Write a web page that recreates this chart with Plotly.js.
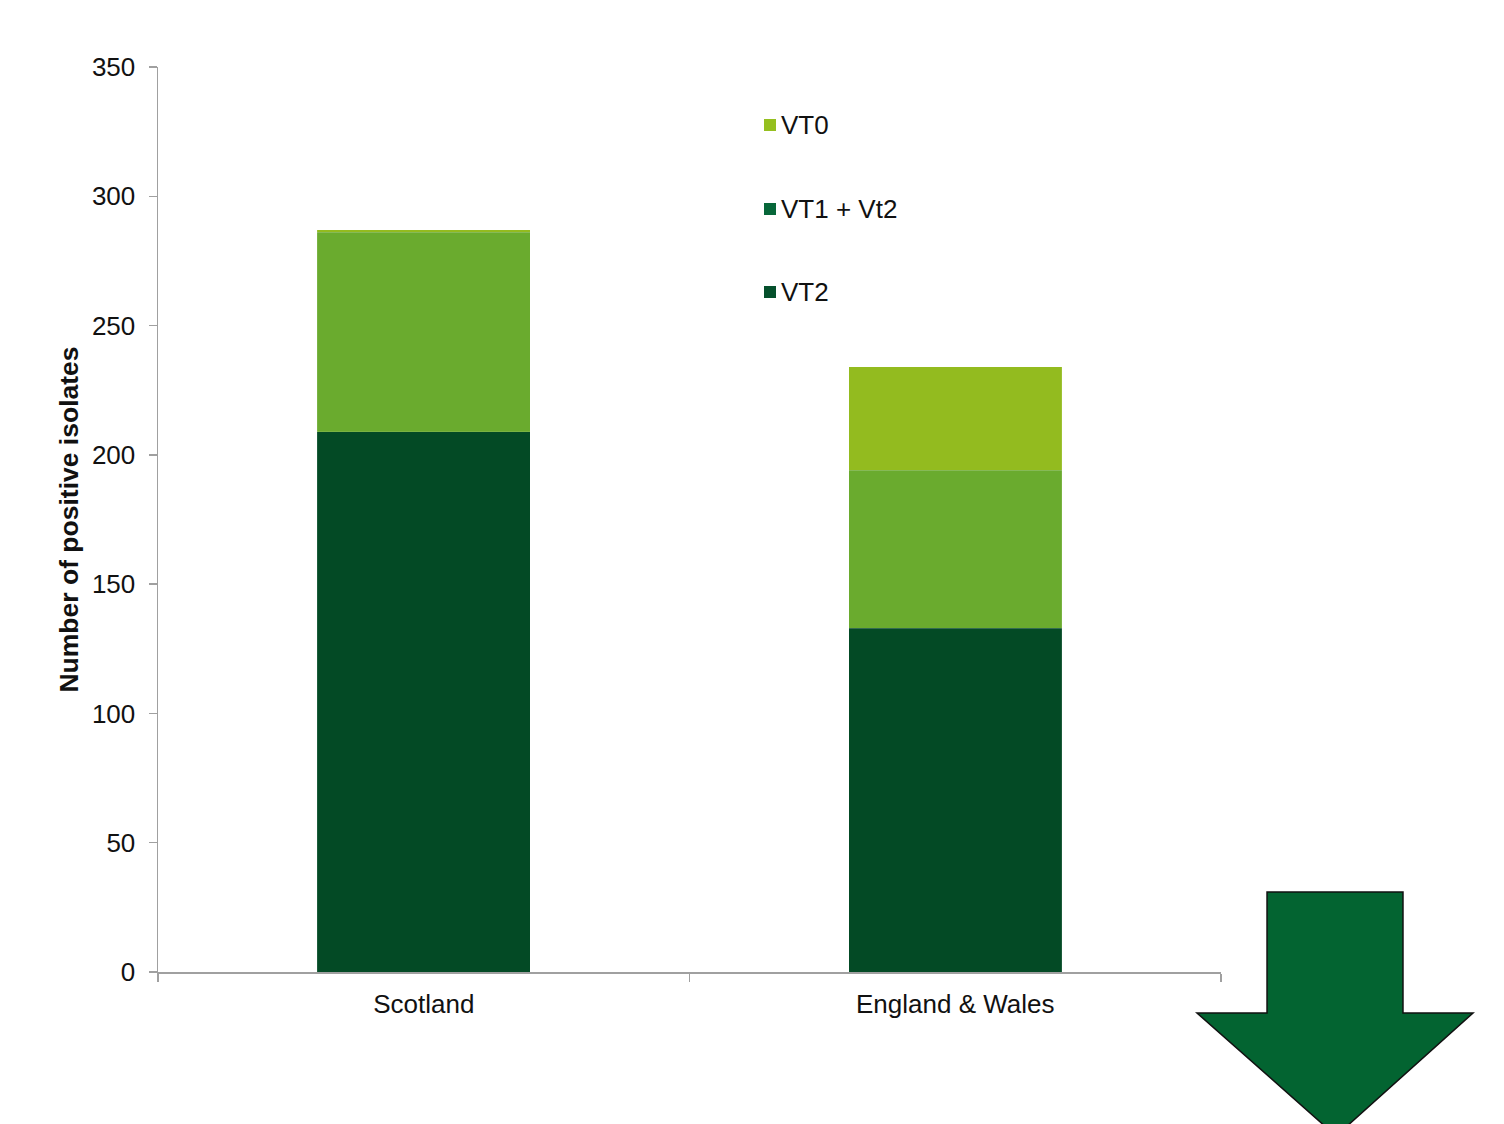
<!DOCTYPE html>
<html>
<head>
<meta charset="utf-8">
<script src="https://cdn.plot.ly/plotly-3.0.1.min.js"></script>
<style>
html,body{margin:0;padding:0;background:#fff;}
#chart{width:1504px;height:1124px;}
</style>
</head>
<body>
<div id="chart"></div>
<script>
const categories = ["Scotland", "England & Wales"];
const vt2 = [209, 133];
const vt1vt2 = [77, 61];
const vt0 = [1, 40];
const legendLabels = ["VT0", "VT1 + Vt2", "VT2"];
const yTicks = [0, 50, 100, 150, 200, 250, 300, 350];

const barColors = {vt2: "#034a25", vt1vt2: "#6aab2e", vt0: "#93bb1f"};
const legendColors = ["#95bf1f", "#07673a", "#05502c"];
const font = "Liberation Sans, Arial, sans-serif";

const edge = {color: "rgba(255,255,255,0.2)", width: 0.5};
const traces = [
  {type: "bar", name: "VT2", x: categories, y: vt2, marker: {color: barColors.vt2, line: edge}, width: 0.4, showlegend: false, hoverinfo: "x+y+name"},
  {type: "bar", name: "VT1 + Vt2", x: categories, y: vt1vt2, marker: {color: barColors.vt1vt2, line: edge}, width: 0.4, showlegend: false, hoverinfo: "x+y+name"},
  {type: "bar", name: "VT0", x: categories, y: vt0, marker: {color: barColors.vt0, line: edge}, width: 0.4, showlegend: false, hoverinfo: "x+y+name"}
];

// Plot area in pixels: x 158..1221, y 67..972
const L = 158, R = 1504 - 1221, T = 67, B = 1124 - 972;
const pw = 1221 - 158, ph = 972 - 67;
const px = v => (v - L) / pw;
const py = v => (972 - v) / ph;

const legendY = [125, 209, 292];
const shapes = [];
const annotations = [];
legendLabels.forEach((lab, i) => {
  const cy = legendY[i];
  shapes.push({type: "rect", xref: "paper", yref: "paper",
    x0: px(764), x1: px(776), y0: py(cy + 6), y1: py(cy - 6),
    fillcolor: legendColors[i], line: {width: 0}});
  annotations.push({xref: "paper", yref: "paper", x: px(779), y: py(cy),
    xanchor: "left", yanchor: "middle", showarrow: false, text: lab,
    font: {family: font, size: 26, color: "#111"}});
});

// Decorative down arrow
const arrowPts = [[1267,892],[1403,892],[1403,1013],[1473,1013],[1336,1136],[1197,1013],[1267,1013]];
let path = arrowPts.map((p, i) => (i ? "L" : "M") + px(p[0]).toFixed(4) + "," + py(p[1]).toFixed(4)).join(" ") + " Z";
shapes.push({type: "path", xref: "paper", yref: "paper", path: path,
  fillcolor: "#036431", line: {color: "#111", width: 1.5}, layer: "above"});

const layout = {
  width: 1504, height: 1124,
  margin: {l: L, r: R, t: T, b: B, pad: 0},
  paper_bgcolor: "#fff", plot_bgcolor: "#fff",
  barmode: "stack",
  bargap: 0.6,
  showlegend: false,
  font: {family: font, size: 26, color: "#111"},
  xaxis: {
    type: "category",
    showline: true, linecolor: "#a0a0a0", linewidth: 1.5,
    ticks: "outside", tickson: "boundaries", ticklen: 8, tickcolor: "#a0a0a0", tickwidth: 1.5,
    showgrid: false, zeroline: false,
    tickfont: {family: font, size: 26, color: "#111"},
    ticklabelstandoff: 8,
    range: [-0.5, 1.5], fixedrange: true
  },
  yaxis: {
    range: [0, 350], tickvals: yTicks, ticktext: yTicks.map(String),
    showline: true, linecolor: "#a0a0a0", linewidth: 1.5,
    ticks: "outside", ticklen: 8, tickcolor: "#a0a0a0", tickwidth: 1.5,
    showgrid: false, zeroline: false,
    tickfont: {family: font, size: 26, color: "#111"},
    ticklabelstandoff: 8,
    title: {text: "<b>Number of positive isolates</b>", font: {family: font, size: 26.5, color: "#111"}, standoff: 5},
    fixedrange: true
  },
  shapes: shapes,
  annotations: annotations
};

Plotly.newPlot("chart", traces, layout, {displayModeBar: false, staticPlot: true});
</script>
</body>
</html>
